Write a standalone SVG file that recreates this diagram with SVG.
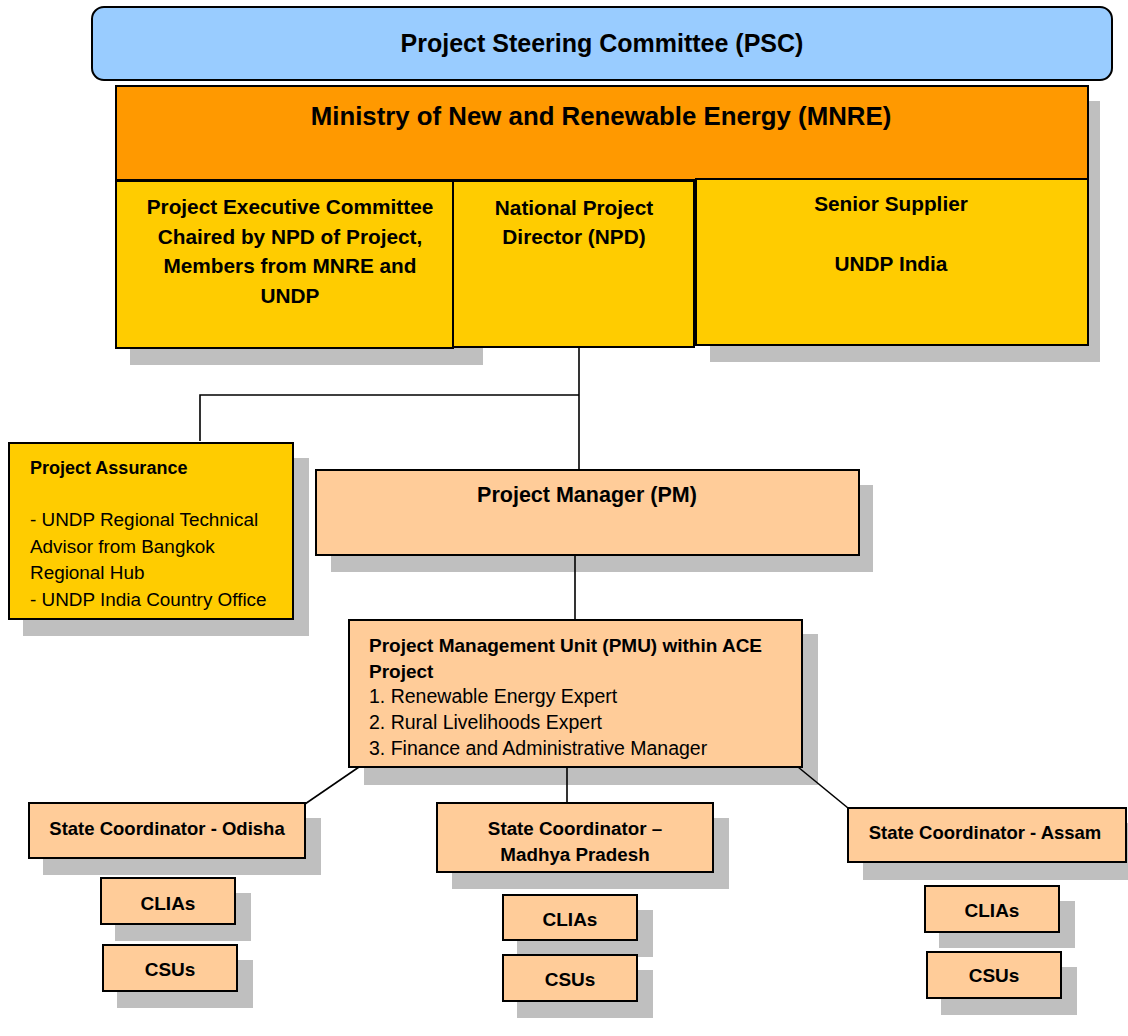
<svg xmlns="http://www.w3.org/2000/svg" width="1128" height="1036" viewBox="0 0 1128 1036">
<style>
text{font-family:"Liberation Sans",Arial,sans-serif;fill:#000}
.b{font-weight:bold}
.c{text-anchor:middle}
.sh{fill:#bfbfbf}
.box{stroke:#000;stroke-width:2}
.y{fill:#ffcc00}
.p{fill:#ffcc99}
.conn{stroke:#000;stroke-width:1.6;fill:none}
</style>
<rect width="1128" height="1036" fill="#fff"/>
<g id="shadows">
<rect class="sh" x="130" y="101" width="970" height="94"/>
<rect class="sh" x="130" y="195" width="353" height="170"/>
<rect class="sh" x="710" y="194" width="390" height="168"/>
<rect class="sh" x="23" y="458" width="286" height="178"/>
<rect class="sh" x="331" y="485" width="542" height="87"/>
<rect class="sh" x="364" y="634" width="454" height="151"/>
<rect class="sh" x="43" y="818" width="278" height="57"/>
<rect class="sh" x="452" y="818" width="277" height="71"/>
<rect class="sh" x="863" y="823" width="265" height="57"/>
<rect class="sh" x="115" y="893" width="136" height="48"/>
<rect class="sh" x="117" y="960" width="136" height="48"/>
<rect class="sh" x="517" y="910" width="136" height="47"/>
<rect class="sh" x="517" y="970" width="136" height="48"/>
<rect class="sh" x="939" y="901" width="136" height="47"/>
<rect class="sh" x="941" y="967" width="136" height="48"/>
</g>
<g id="connectors">
<polyline class="conn" points="579,347 579,470"/>
<polyline class="conn" points="579,395 200,395 200,441"/>
<line class="conn" x1="575" y1="555" x2="575" y2="620"/>
<line class="conn" x1="359" y1="767" x2="305" y2="804"/>
<line class="conn" x1="567" y1="767" x2="567" y2="803"/>
<line class="conn" x1="798" y1="767" x2="848" y2="808"/>
</g>
<g id="psc">
<rect class="box" x="92" y="7" width="1020" height="73" rx="12" fill="#99ccff"/>
<text class="b c" x="602" y="52" font-size="25">Project Steering Committee (PSC)</text>
</g>
<g id="mnre">
<rect class="box" x="116" y="86" width="972" height="94" fill="#ff9900"/>
<text class="b c" x="601" y="125" font-size="25.8">Ministry of New and Renewable Energy (MNRE)</text>
</g>
<g id="pec">
<rect class="box y" x="116" y="181" width="337" height="167"/>
<text class="b c" font-size="20.8"><tspan x="290" y="214">Project Executive Committee</tspan><tspan x="290" y="244">Chaired by NPD of Project,</tspan><tspan x="290" y="273">Members from MNRE and</tspan><tspan x="290" y="303">UNDP</tspan></text>
</g>
<g id="npd">
<rect class="box y" x="453" y="181" width="241" height="166"/>
<text class="b c" font-size="20.8"><tspan x="574" y="215">National Project</tspan><tspan x="574" y="244">Director (NPD)</tspan></text>
</g>
<g id="supplier">
<rect class="box y" x="696" y="179" width="392" height="166"/>
<text class="b c" font-size="20.8"><tspan x="891" y="211">Senior Supplier</tspan><tspan x="891" y="271">UNDP India</tspan></text>
</g>
<g id="assurance">
<rect class="box y" x="9" y="443" width="284" height="176"/>
<text class="b" x="30" y="474" font-size="18">Project Assurance</text>
<text font-size="18.9"><tspan x="30" y="526">- UNDP Regional Technical</tspan><tspan x="30" y="553">Advisor from Bangkok</tspan><tspan x="30" y="579">Regional Hub</tspan><tspan x="30" y="606">- UNDP India Country Office</tspan></text>
</g>
<g id="pm">
<rect class="box p" x="316" y="470" width="543" height="85"/>
<text class="b c" x="587" y="502" font-size="21.5">Project Manager (PM)</text>
</g>
<g id="pmu">
<rect class="box p" x="349" y="620" width="453" height="147"/>
<text class="b" font-size="19"><tspan x="369" y="652">Project Management Unit (PMU) within ACE</tspan><tspan x="369" y="678">Project</tspan></text>
<text font-size="19.5"><tspan x="369" y="703">1. Renewable Energy Expert</tspan><tspan x="369" y="729">2. Rural Livelihoods Expert</tspan><tspan x="369" y="755">3. Finance and Administrative Manager</tspan></text>
</g>
<g id="odisha">
<rect class="box p" x="29" y="803" width="276" height="55"/>
<text class="b c" x="167" y="835" font-size="18.5">State Coordinator - Odisha</text>
</g>
<g id="mp">
<rect class="box p" x="437" y="803" width="276" height="69"/>
<text class="b c" font-size="18.8"><tspan x="575" y="835">State Coordinator –</tspan><tspan x="575" y="861">Madhya Pradesh</tspan></text>
</g>
<g id="assam">
<rect class="box p" x="848" y="808" width="278" height="54"/>
<text class="b c" x="985" y="839" font-size="18.5">State Coordinator - Assam</text>
</g>
<g id="odisha-clias">
<rect class="box p" x="101" y="878" width="134" height="46"/>
<text class="b c" x="168" y="910" font-size="19">CLIAs</text>
</g>
<g id="odisha-csus">
<rect class="box p" x="103" y="945" width="134" height="46"/>
<text class="b c" x="170" y="976" font-size="19">CSUs</text>
</g>
<g id="mp-clias">
<rect class="box p" x="503" y="895" width="134" height="45"/>
<text class="b c" x="570" y="926" font-size="19">CLIAs</text>
</g>
<g id="mp-csus">
<rect class="box p" x="503" y="955" width="134" height="46"/>
<text class="b c" x="570" y="986" font-size="19">CSUs</text>
</g>
<g id="assam-clias">
<rect class="box p" x="925" y="886" width="134" height="46"/>
<text class="b c" x="992" y="917" font-size="19">CLIAs</text>
</g>
<g id="assam-csus">
<rect class="box p" x="927" y="952" width="134" height="46"/>
<text class="b c" x="994" y="982" font-size="19">CSUs</text>
</g>
</svg>
